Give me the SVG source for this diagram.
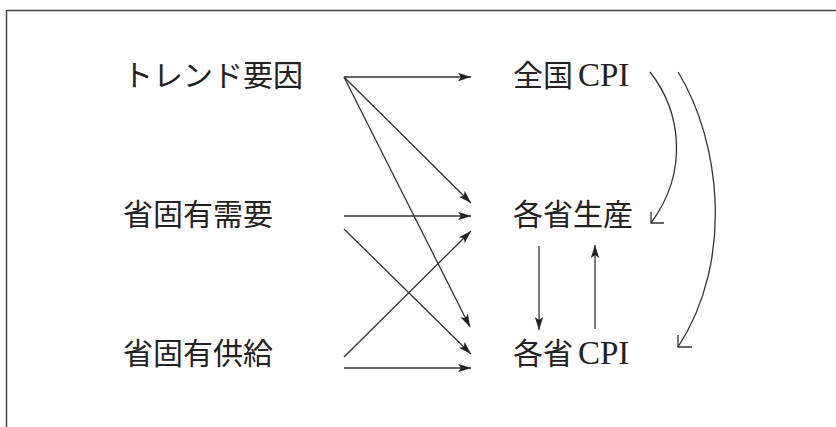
<svg xmlns="http://www.w3.org/2000/svg" width="836" height="427" viewBox="0 0 836 427">
<style>
text{font-family:"Liberation Serif","Noto Sans CJK JP",serif;font-size:30px;fill:#222}
text.l{font-size:33px}
.c{stroke:#333;stroke-width:1.3;fill:none}
.a{marker-end:url(#ah)}
</style>
<defs>
<marker id="ah" markerWidth="14" markerHeight="10" refX="13" refY="5" orient="auto" markerUnits="userSpaceOnUse">
<path d="M0,0.8 L13,5 L0,9.2 L3,5 Z" fill="#222"/>
</marker>
</defs>
<rect width="836" height="427" fill="#fff"/>
<path d="M6.5,427 V10.5 H836" stroke="#444" stroke-width="1.5" fill="none"/>
<g id="n1"><text x="123" y="86">トレンド要因</text></g>
<g id="n2"><text x="123" y="225">省固有需要</text></g>
<g id="n3"><text x="123" y="364">省固有供給</text></g>
<g id="n4"><text x="513" y="86">全国</text><text class="l" x="578" y="86">CPI</text></g>
<g id="n5"><text x="513" y="225">各省生産</text></g>
<g id="n6"><text x="513" y="364">各省</text><text class="l" x="578" y="364">CPI</text></g>
<g id="connectors">
<line class="c a" x1="344" y1="77" x2="471" y2="77"/>
<line class="c a" x1="344" y1="77" x2="471" y2="203"/>
<line class="c a" x1="344" y1="77" x2="470" y2="327"/>
<line class="c a" x1="344" y1="216" x2="471" y2="216"/>
<line class="c a" x1="344" y1="229" x2="471" y2="354"/>
<line class="c a" x1="344" y1="357" x2="471" y2="231"/>
<line class="c a" x1="344" y1="368" x2="471" y2="368"/>
<line class="c a" x1="539" y1="246" x2="539" y2="330"/>
<line class="c a" x1="595" y1="329" x2="595" y2="245"/>
<path class="c" d="M650,72 C680,110 690,170 651,223"/>
<path class="c" d="M651,212 V223 H664"/>
<path class="c" d="M678,72 C720,140 735,260 678,347"/>
<path class="c" d="M678,335 V347 H692"/>
</g>
</svg>
